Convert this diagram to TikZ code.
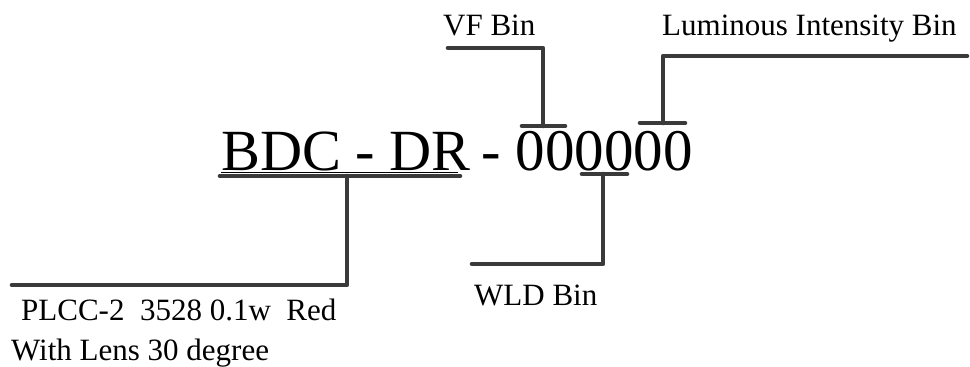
\documentclass[tikz,border=0pt]{standalone}
\usepackage{fontspec}
\setmainfont{Liberation Serif}
\definecolor{barc}{HTML}{3A3A3A}
\begin{document}
\begin{tikzpicture}[x=1pt,y=-1pt,
  bar/.style={line width=4.6pt, draw=barc, line cap=round, line join=round},
  lbl/.style={anchor=base west, inner sep=0pt, font=\fontsize{31}{37}\selectfont},
  big/.style={anchor=base west, inner sep=0pt, font=\fontsize{58.3}{70}\selectfont}]
\useasboundingbox (0,0) rectangle (970,367);
% main code
\node[big] (code) at (221,170) {BDC - DR};
\node[big] (dash) at (481,170) {-};
\node[big, font=\fontsize{59}{70}\selectfont] (bins) at (515.5,170) {000000};
\coordinate (ul1) at (221,172.5);
\coordinate (ul2) at (458,172.5);
\draw[line width=1pt] (ul1) -- (ul2);
% labels
\node[lbl] (vf) at (443,35) {VF Bin};
\node[lbl] (lum) at (662,35) {Luminous Intensity Bin};
\node[lbl] (wld) at (474,305) {WLD Bin};
\node[lbl] (plcc) at (21,320) {PLCC-2\ \ 3528 0.1w\ \ Red};
\node[lbl] (lens) at (11,360) {With Lens 30 degree};
% BDC - DR connector
\coordinate (a1) at (220,176);
\coordinate (a2) at (460,176);
\coordinate (a3) at (347,176);
\coordinate (a4) at (347,285);
\coordinate (a5) at (12,285);
\draw[bar] (a1) -- (a2);
\draw[bar] (a3) -- (a4) -- (a5);
% VF connector
\coordinate (v1) at (522,126);
\coordinate (v2) at (565,126);
\coordinate (v3) at (543,126);
\coordinate (v4) at (543,48);
\coordinate (v5) at (448,48);
\draw[bar] (v1) -- (v2);
\draw[bar] (v3) -- (v4) -- (v5);
% Luminous connector
\coordinate (l1) at (640,123);
\coordinate (l2) at (685,123);
\coordinate (l3) at (663,123);
\coordinate (l4) at (663,56);
\coordinate (l5) at (967,56);
\draw[bar] (l1) -- (l2);
\draw[bar] (l3) -- (l4) -- (l5);
% WLD connector
\coordinate (w1) at (582,174);
\coordinate (w2) at (627,174);
\coordinate (w3) at (603,174);
\coordinate (w4) at (603,264);
\coordinate (w5) at (472,264);
\draw[bar] (w1) -- (w2);
\draw[bar] (w3) -- (w4) -- (w5);
\end{tikzpicture}
\end{document}
